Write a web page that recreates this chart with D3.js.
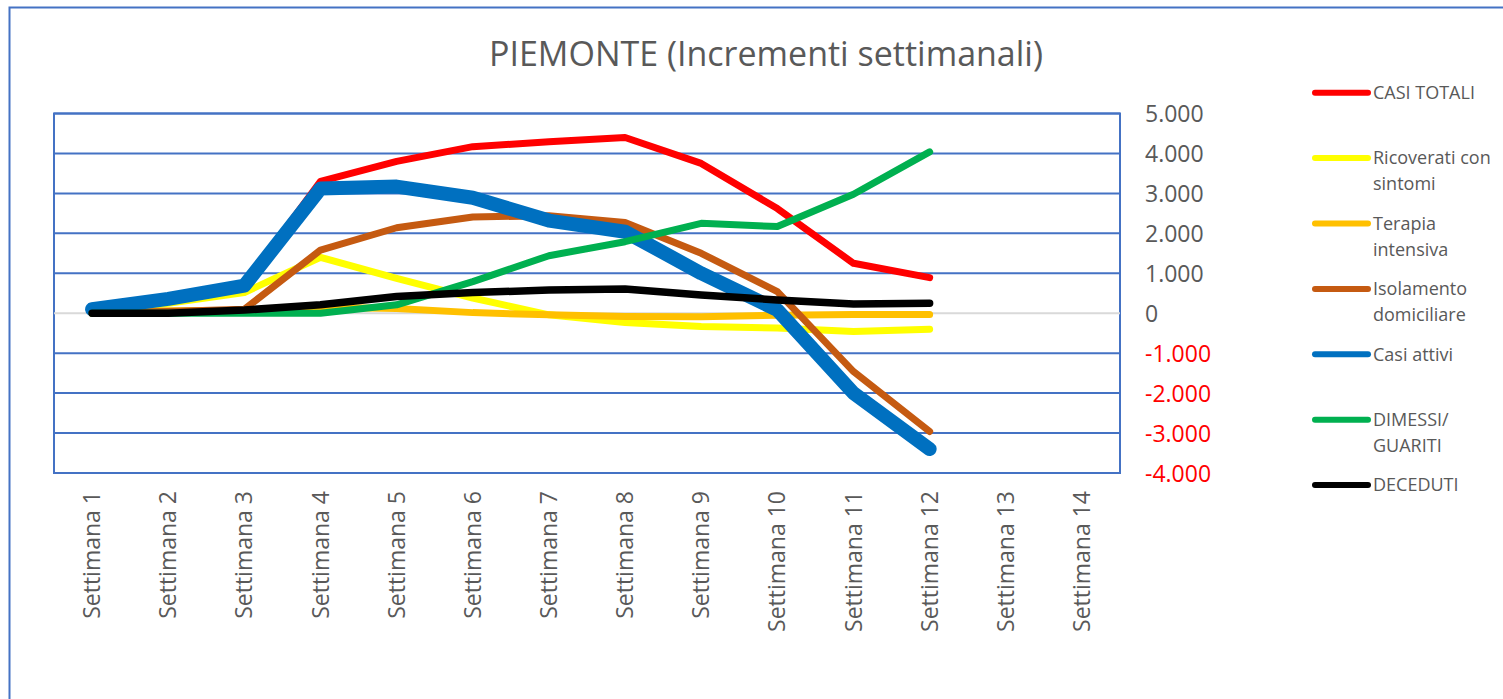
<!DOCTYPE html>
<html>
<head>
<meta charset="utf-8">
<script src="https://cdn.jsdelivr.net/npm/d3@7"></script>
<style>
  html, body { margin: 0; padding: 0; background: #fff; }
  svg { display: block; }
  text { font-family: "Open Sans", "Noto Sans", sans-serif; }
</style>
</head>
<body>
<svg id="chart" width="1503" height="699"></svg>
<script>
// ---- data ----
const weeks = ["Settimana 1","Settimana 2","Settimana 3","Settimana 4","Settimana 5","Settimana 6","Settimana 7",
               "Settimana 8","Settimana 9","Settimana 10","Settimana 11","Settimana 12","Settimana 13","Settimana 14"];
const casiTotali   = [100, 370, 720, 3300, 3800, 4170, 4290, 4400, 3750, 2620, 1250, 890];
const ricoverati   = [0, 250, 520, 1400, 870, 380, -40, -230, -330, -370, -460, -400];
const terapia      = [0, 60, 70, 150, 120, 15, -40, -80, -90, -50, -30, -30];
const isolamento   = [0, 40, 100, 1580, 2140, 2410, 2440, 2270, 1500, 540, -1460, -2960];
const casiAttivi   = [100, 360, 690, 3120, 3170, 2890, 2320, 2040, 1000, 80, -2000, -3400];
const dimessi      = [0, 0, 0, 0, 210, 790, 1440, 1790, 2250, 2170, 2980, 4040];
const deceduti     = [0, 0, 80, 210, 420, 517, 580, 608, 458, 333, 233, 250];
const yTicks = [-4000, -3000, -2000, -1000, 0, 1000, 2000, 3000, 4000, 5000];
const seriesNames = [["CASI TOTALI"], ["Ricoverati con", "sintomi"], ["Terapia", "intensiva"],
                     ["Isolamento", "domiciliare"], ["Casi attivi"], ["DIMESSI/", "GUARITI"], ["DECEDUTI"]];
const title = "PIEMONTE (Incrementi settimanali)";

// ---- styling ----
const seriesValues = [casiTotali, ricoverati, terapia, isolamento, casiAttivi, dimessi, deceduti];
const colors = ["#FF0000", "#FFFF00", "#FFC000", "#C55A11", "#0070C0", "#00B050", "#000000"];
const widths = [7, 7, 7, 7, 14, 7, 7.5];
const blue = "#4472C4";

const svg = d3.select("#chart");
const plot = { left: 54, right: 1120, top: 113.5, bottom: 473 };

// outer border
svg.append("rect").attr("x", 9.5).attr("y", 7.5).attr("width", 1510).attr("height", 720)
  .attr("fill", "#fff").attr("stroke", blue).attr("stroke-width", 2);

// title
svg.append("text").attr("x", 766).attr("y", 66).attr("text-anchor", "middle")
  .attr("font-size", 34).attr("fill", "#595959").text(title);

const x = d3.scalePoint().domain(weeks).range([plot.left, plot.right]).padding(0.5);
const y = d3.scaleLinear().domain([-4000, 5000]).range([plot.bottom, plot.top]);

// gridlines
svg.append("g").selectAll("line").data(yTicks.filter(d => d !== 0)).join("line")
  .attr("x1", plot.left).attr("x2", plot.right)
  .attr("y1", d => y(d)).attr("y2", d => y(d))
  .attr("stroke", blue).attr("stroke-width", 2);
// plot border
svg.append("rect").attr("x", plot.left).attr("y", plot.top)
  .attr("width", plot.right - plot.left).attr("height", plot.bottom - plot.top)
  .attr("fill", "none").attr("stroke", blue).attr("stroke-width", 2);
// zero axis line
svg.append("line").attr("x1", plot.left).attr("x2", plot.right)
  .attr("y1", y(0)).attr("y2", y(0)).attr("stroke", "#D9D9D9").attr("stroke-width", 2);

// y axis (right)
const loc = d3.formatLocale({ decimal: ",", thousands: ".", grouping: [3], currency: ["", "€"], minus: "-" });
const fmt = loc.format(",d");
const yAxis = svg.append("g").attr("transform", `translate(${plot.right},0)`)
  .call(d3.axisRight(y).tickValues(yTicks).tickSize(0).tickPadding(25).tickFormat(fmt));
yAxis.select(".domain").remove();
yAxis.selectAll("text").attr("font-size", 23).attr("font-family", "Open Sans")
  .attr("fill", d => d < 0 ? "#FF0000" : "#595959").attr("dy", "0.35em");

// x axis labels
const xAxis = svg.append("g").selectAll("g").data(weeks).join("g")
  .attr("transform", d => `translate(${x(d)},491) rotate(-90)`);
xAxis.append("text").attr("x", 0).attr("y", 8).attr("text-anchor", "end")
  .attr("font-size", 23).attr("fill", "#595959").text(d => d);

// lines
const line = d3.line().x((d, i) => x(weeks[i])).y(d => y(d));
svg.append("g").selectAll("path").data(seriesValues).join("path")
  .attr("d", d => line(d)).attr("fill", "none")
  .attr("stroke", (d, i) => colors[i]).attr("stroke-width", (d, i) => widths[i])
  .attr("stroke-linecap", "round").attr("stroke-linejoin", "round");

// legend
const leg = svg.append("g").selectAll("g").data(seriesNames).join("g")
  .attr("transform", (d, i) => `translate(0,${92.7 + i * 65.4})`);
leg.append("line").attr("x1", 1315).attr("x2", 1368).attr("y1", 0).attr("y2", 0)
  .attr("stroke", (d, i) => colors[i]).attr("stroke-width", 6).attr("stroke-linecap", "round");
leg.each(function(d) {
  const g = d3.select(this);
  d.forEach((t, j) => {
    g.append("text").attr("x", 1373).attr("y", j * 26).attr("dy", "0.35em")
      .attr("font-size", 18).attr("fill", "#595959").text(t);
  });
});
</script>
</body>
</html>
